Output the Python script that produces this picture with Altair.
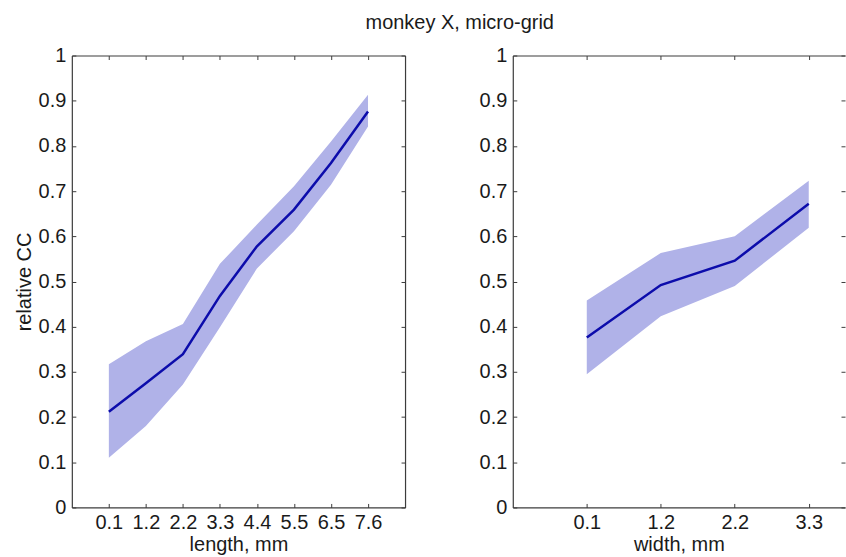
import altair as alt
import pandas as pd

# ---- data ----
title_text = "monkey X, micro-grid"

length_labels = ["0.1", "1.2", "2.2", "3.3", "4.4", "5.5", "6.5", "7.6"]
length_mean = [0.212, 0.275, 0.339, 0.468, 0.578, 0.659, 0.762, 0.876]
length_upper = [0.317, 0.368, 0.406, 0.539, 0.626, 0.711, 0.810, 0.913]
length_lower = [0.110, 0.180, 0.272, 0.399, 0.529, 0.611, 0.714, 0.843]

width_labels = ["0.1", "1.2", "2.2", "3.3"]
width_mean = [0.376, 0.492, 0.546, 0.672]
width_upper = [0.458, 0.563, 0.600, 0.723]
width_lower = [0.295, 0.423, 0.490, 0.619]

y_ticks = [0.0, 0.1, 0.2, 0.3, 0.4, 0.5, 0.6, 0.7, 0.8, 0.9, 1.0]

FONT = "Liberation Sans"
FS = 20
AX = "#3c3c3c"
TXT = "#1a1a1a"
FILL = "#b0b2e8"
LINE = "#0c0cab"
H = 453


def panel(labels, mean, lower, upper, xtitle, ytitle, xmax, w, right_border):
    n = len(labels)
    idx = list(range(1, n + 1))
    df = pd.DataFrame({"i": idx, "mean": mean, "lower": lower, "upper": upper})
    lab_expr = "[" + ",".join("'%s'" % l for l in labels) + "][datum.value - 1]"
    xs = alt.Scale(domain=[0, xmax], nice=False, zero=False)
    ys = alt.Scale(domain=[0, 1], nice=False)
    base = alt.Chart(df)

    if ytitle:
        y_axis_main = alt.Axis(orient="left", values=y_ticks, format="~g", ticks=False,
                               domain=True, grid=False, labelPadding=6, title=ytitle,
                               titlePadding=4)
    else:
        y_axis_main = alt.Axis(orient="left", values=y_ticks, format="~g", ticks=False,
                               domain=True, grid=False, labelPadding=6, title=None)

    area = base.mark_area(color=FILL, opacity=1).encode(
        x=alt.X("i:Q", scale=xs,
                axis=alt.Axis(orient="bottom", values=idx, labelExpr=lab_expr,
                              title=xtitle, ticks=False, domain=True, grid=False,
                              labelPadding=5, titlePadding=2)),
        y=alt.Y("lower:Q", scale=ys, axis=y_axis_main),
        y2="upper:Q",
    )
    line = base.mark_line(color=LINE, strokeWidth=2.5).encode(
        x=alt.X("i:Q", scale=xs,
                axis=alt.Axis(orient="top", offset=-H, values=idx, labels=False,
                              title=None, tickSize=4, domain=False, grid=False)),
        y=alt.Y("mean:Q", scale=ys,
                axis=alt.Axis(orient="right", offset=-w, values=y_ticks, labels=False,
                              title=None, tickSize=4, domain=False, grid=False)),
    )
    ghost = base.mark_line(opacity=0).encode(
        x=alt.X("i:Q", scale=xs,
                axis=alt.Axis(orient="bottom", offset=-H, values=idx, labels=False,
                              title=None, tickSize=4, domain=True, grid=False)),
        y=alt.Y("mean:Q", scale=ys,
                axis=alt.Axis(orient="left", offset=-w, values=y_ticks, labels=False,
                              title=None, tickSize=4, domain=right_border, grid=False)),
    )
    return alt.layer(area, line, ghost).resolve_axis(
        x="independent", y="independent"
    ).properties(width=w, height=H)


left = panel(length_labels, length_mean, length_lower, length_upper,
             "length, mm", "relative CC", 9, 334, True)
right = panel(width_labels, width_mean, width_lower, width_upper,
              "width, mm", None, 4.49, 333, False)

chart = alt.hconcat(left, right, spacing=73).properties(
    title=alt.Title(title_text, fontSize=FS, font=FONT, fontWeight="normal",
                    color=TXT, anchor="middle", dx=30, offset=13),
    padding={"left": 14, "top": 12, "right": 0, "bottom": 0},
).configure_view(stroke=None).configure_axis(
    labelFont=FONT, titleFont=FONT, labelFontSize=FS, titleFontSize=FS,
    labelColor=TXT, titleColor=TXT, domainColor=AX, tickColor=AX,
    titleFontWeight="normal", domainWidth=1.2, tickWidth=1,
)

chart.save("out.html", embed_options={"renderer": "svg", "actions": False})
